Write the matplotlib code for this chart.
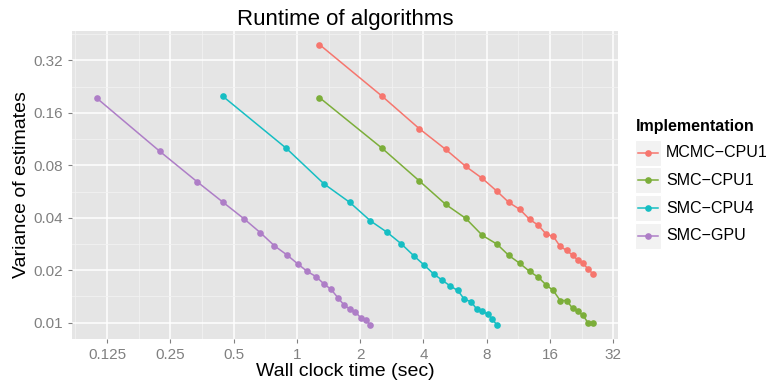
import matplotlib
matplotlib.use("Agg")
import matplotlib.pyplot as plt
import numpy as np
from matplotlib.patches import Rectangle
from matplotlib.lines import Line2D
from matplotlib.ticker import NullFormatter

plt.rcParams['font.family'] = ['Liberation Sans', 'DejaVu Sans']

# valores
implementacoes = ["MCMC\u2212CPU1", "SMC\u2212CPU1", "SMC\u2212CPU4", "SMC\u2212GPU"]
cores = ["#F6766E", "#7CAE3A", "#16BEC3", "#AE7EC7"]

mcmc_tempo = [1.28, 2.55, 3.82, 5.11, 6.36, 7.63, 8.97, 10.2, 11.5, 12.8,
              14.1, 15.4, 16.6, 17.9, 19.2, 20.5, 21.7, 23.0, 24.4, 25.7]
mcmc_var = [0.395, 0.199, 0.130, 0.0987, 0.0789, 0.0673, 0.0567, 0.0490, 0.0447, 0.0392,
            0.0362, 0.0321, 0.0313, 0.0274, 0.0260, 0.0244, 0.0229, 0.0219, 0.0202, 0.0190]

smc1_tempo = [1.28, 2.55, 3.82, 5.11, 6.36, 7.63, 8.97, 10.2, 11.5, 12.8,
              14.1, 15.4, 16.6, 17.9, 19.2, 20.5, 21.7, 23.0, 24.4, 25.7]
smc1_var = [0.196, 0.100, 0.0652, 0.0477, 0.0397, 0.0317, 0.0282, 0.0243, 0.0219, 0.0197,
            0.0182, 0.0164, 0.0153, 0.0134, 0.0134, 0.0121, 0.0116, 0.0110, 0.0099, 0.0099]

smc4_tempo = [0.445, 0.892, 1.344, 1.786, 2.239, 2.688, 3.133, 3.601, 4.017, 4.482,
              4.925, 5.377, 5.83, 6.27, 6.74, 7.20, 7.63, 8.10, 8.51, 8.96]
smc4_var = [0.199, 0.100, 0.0627, 0.0490, 0.0384, 0.0330, 0.0284, 0.0242, 0.0215, 0.0190,
            0.0175, 0.0162, 0.0153, 0.0136, 0.0132, 0.0119, 0.0116, 0.0112, 0.0105, 0.00966]

gpu_tempo = [0.1113, 0.2230, 0.3357, 0.4462, 0.5596, 0.671, 0.782, 0.896, 1.007, 1.119,
             1.231, 1.344, 1.456, 1.567, 1.679, 1.799, 1.900, 2.022, 2.129, 2.239]
gpu_var = [0.195, 0.0961, 0.0643, 0.0490, 0.0395, 0.0328, 0.0276, 0.0245, 0.0218, 0.0197,
           0.0184, 0.0167, 0.0155, 0.0139, 0.0126, 0.0119, 0.0115, 0.0106, 0.0103, 0.0097]

x_ticks = [0.125, 0.25, 0.5, 1, 2, 4, 8, 16, 32]
x_labels = ["0.125", "0.25", "0.5", "1", "2", "4", "8", "16", "32"]
y_ticks = [0.01, 0.02, 0.04, 0.08, 0.16, 0.32]
y_labels = ["0.01", "0.02", "0.04", "0.08", "0.16", "0.32"]

series = [(mcmc_tempo, mcmc_var), (smc1_tempo, smc1_var),
          (smc4_tempo, smc4_var), (gpu_tempo, gpu_var)]

W, H = 769, 385
fig = plt.figure(figsize=(W / 100, H / 100), dpi=100)

def fx(px):
    return px / W

def fy(py):
    return 1 - py / H

ax = fig.add_axes([fx(71.7), fy(339.3), fx(618) - fx(71.7), fy(30.5) - fy(339.3)])
ax.set_facecolor("#E5E5E5")
for s in ax.spines.values():
    s.set_visible(False)

for (t, v), cor in zip(series, cores):
    ax.plot(t, v, "-o", color=cor, lw=1.1, ms=4.8, mew=0, zorder=3)

ax.set_xscale("log", base=2)
ax.set_yscale("log", base=2)

# expansao de 5% como no ggplot
todos_t = np.log2(np.concatenate([np.array(t) for t, v in series]))
todos_v = np.log2(np.concatenate([np.array(v) for t, v in series]))
dx = 0.05 * (todos_t.max() - todos_t.min())
dy = 0.05 * (todos_v.max() - todos_v.min())
ax.set_xlim(2 ** (todos_t.min() - dx), 2 ** (todos_t.max() + dx))
ax.set_ylim(2 ** (todos_v.min() - dy), 2 ** (todos_v.max() + dy))

ax.set_xticks(x_ticks)
ax.set_xticklabels(x_labels)
ax.set_yticks(y_ticks)
ax.set_yticklabels(y_labels)
ax.set_xticks([2 ** (k + 0.5) for k in range(-4, 5)], minor=True)
ax.set_yticks([0.01 * 2 ** (k + 0.5) for k in range(0, 6)], minor=True)
ax.xaxis.set_minor_formatter(NullFormatter())
ax.yaxis.set_minor_formatter(NullFormatter())
ax.tick_params(which="minor", length=0)
ax.tick_params(which="major", length=3, width=0.8, color="#808080",
               labelcolor="#808080", labelsize=11, pad=3)
ax.grid(which="major", color="white", lw=1.1)
ax.grid(which="minor", color="#F2F2F2", lw=0.6)
ax.set_axisbelow(True)

ax.set_title("Runtime of algorithms", fontsize=16, pad=4)
ax.set_xlabel("Wall clock time (sec)", fontsize=14, labelpad=1)
ax.set_ylabel("Variance of estimates", fontsize=14, labelpad=3)

# legenda feita a mao, com as caixas cinza do ggplot
fig.text(fx(636), fy(126), "Implementation", fontsize=11.5, fontweight="bold", va="center")
for i, (nome, cor) in enumerate(zip(implementacoes, cores)):
    yc = 152.5 + i * 27.8
    fig.patches.append(Rectangle((fx(635), fy(yc + 13)), fx(26), 26 / H,
                                 transform=fig.transFigure, facecolor="#F2F2F2",
                                 edgecolor="white", lw=0.8))
    fig.lines.append(Line2D([fx(638), fx(658)], [fy(yc), fy(yc)], transform=fig.transFigure,
                            color=cor, lw=1.1, marker=None))
    fig.lines.append(Line2D([fx(648)], [fy(yc)], transform=fig.transFigure,
                            color=cor, marker="o", ms=4.8, mew=0, ls="none"))
    fig.text(fx(666), fy(yc), nome, fontsize=11.5, va="center")

fig.savefig("out.png", dpi=100)
